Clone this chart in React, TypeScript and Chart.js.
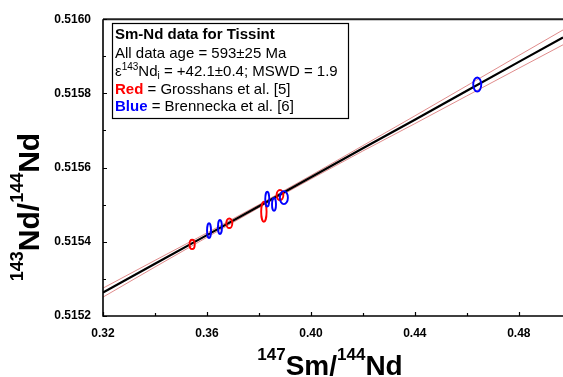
import React, { useEffect, useRef } from "react";
import { Chart, registerables } from "chart.js";

Chart.register(...registerables);

// ---- axis ticks ----
const xMajorTicks = [0.32, 0.36, 0.4, 0.44, 0.48];
const xMinorTicks = [0.34, 0.38, 0.42, 0.46];
const yMajorTicks = [0.5152, 0.5154, 0.5156, 0.5158, 0.516];
const yMinorTicks = [0.5153, 0.5155, 0.5157, 0.5159];

// ---- isochron fit and its error envelope ----
const fitX = [0.32, 0.34, 0.36, 0.38, 0.4, 0.42, 0.44, 0.46, 0.48, 0.497];
const fitY = [0.515263, 0.515341, 0.515418, 0.515496, 0.515574, 0.515652, 0.515729, 0.515807, 0.515885, 0.515951];
const envUpper = [0.5152751, 0.5153499, 0.5154239, 0.5155, 0.5155788, 0.5156592, 0.5157395, 0.5158207, 0.5159022, 0.515971];
const envLower = [0.5152509, 0.5153321, 0.5154121, 0.515492, 0.5155692, 0.5156448, 0.5157185, 0.5157933, 0.5158678, 0.515931];

// ---- Red = Grosshans et al. [5] ----
const redX = [0.3543, 0.3686, 0.3819, 0.3881];
const redY = [0.515393, 0.51545, 0.515481, 0.515526];
const redErrX = [0.001, 0.00115, 0.00104, 0.0013];
const redErrY = [0.0000125, 0.000013, 0.000027, 0.0000135];

// ---- Blue = Brennecka et al. [6] ----
const blueX = [0.3608, 0.365, 0.3832, 0.3858, 0.3896, 0.464];
const blueY = [0.51543, 0.51544, 0.515515, 0.515501, 0.515519, 0.515824];
const blueErrX = [0.00077, 0.00077, 0.00077, 0.00077, 0.00154, 0.00154];
const blueErrY = [0.00002, 0.000019, 0.00002, 0.0000175, 0.0000175, 0.000019];

const FONT = '"Liberation Sans", Arial, Helvetica, sans-serif';

type Seg = { t: string; size: number; bold?: boolean; color?: string; dy?: number };

function segFont(s: Seg) {
  return `${s.bold ? "bold " : ""}${s.size}px ${FONT}`;
}
function richWidth(ctx: CanvasRenderingContext2D, segs: Seg[]) {
  let w = 0;
  for (const s of segs) {
    ctx.font = segFont(s);
    w += ctx.measureText(s.t).width;
  }
  return w;
}
function drawRich(ctx: CanvasRenderingContext2D, segs: Seg[], x: number, y: number) {
  let cx = x;
  ctx.textAlign = "left";
  ctx.textBaseline = "alphabetic";
  for (const s of segs) {
    ctx.font = segFont(s);
    ctx.fillStyle = s.color || "#000";
    ctx.fillText(s.t, cx, y + (s.dy || 0));
    cx += ctx.measureText(s.t).width;
  }
}

const isoPlugin = {
  id: "isochronExtras",
  afterDatasetsDraw(chart: any) {
    const { ctx, chartArea, scales } = chart;
    const xs = scales.x;
    const ys = scales.y;
    ctx.save();
    ctx.beginPath();
    ctx.rect(chartArea.left, chartArea.top, chartArea.right - chartArea.left, chartArea.bottom - chartArea.top);
    ctx.clip();
    const drawSet = (X: number[], Y: number[], EX: number[], EY: number[], color: string) => {
      ctx.strokeStyle = color;
      ctx.lineWidth = 1.9;
      for (let i = 0; i < X.length; i++) {
        const cx = xs.getPixelForValue(X[i]);
        const cy = ys.getPixelForValue(Y[i]);
        const rx = Math.abs(xs.getPixelForValue(X[i] + EX[i]) - cx);
        const ry = Math.abs(ys.getPixelForValue(Y[i] + EY[i]) - cy);
        ctx.beginPath();
        ctx.ellipse(cx, cy, rx, ry, 0, 0, Math.PI * 2);
        ctx.stroke();
      }
    };
    drawSet(redX, redY, redErrX, redErrY, "#ff0000");
    drawSet(blueX, blueY, blueErrX, blueErrY, "#0000ff");
    ctx.restore();
  },
  afterDraw(chart: any) {
    const { ctx, chartArea, scales } = chart;
    const xs = scales.x;
    const ys = scales.y;
    const L = chartArea.left;
    const R = chartArea.right;
    const T = chartArea.top;
    const B = chartArea.bottom;
    ctx.save();
    // frame
    ctx.strokeStyle = "#000";
    ctx.lineWidth = 1.6;
    ctx.beginPath();
    ctx.moveTo(L, T);
    ctx.lineTo(L, B);
    ctx.lineTo(R, B);
    ctx.stroke();
    ctx.strokeStyle = "#222";
    ctx.lineWidth = 2;
    ctx.beginPath();
    ctx.moveTo(L, T);
    ctx.lineTo(R, T);
    ctx.stroke();
    // inward ticks
    ctx.strokeStyle = "#000";
    ctx.lineWidth = 1.2;
    ctx.beginPath();
    for (const v of xMajorTicks) {
      const p = Math.round(xs.getPixelForValue(v)) + 0.5;
      ctx.moveTo(p, B);
      ctx.lineTo(p, B - 4);
    }
    for (const v of xMinorTicks) {
      const p = Math.round(xs.getPixelForValue(v)) + 0.5;
      ctx.moveTo(p, B);
      ctx.lineTo(p, B - 3);
    }
    for (const v of yMajorTicks) {
      const p = Math.round(ys.getPixelForValue(v)) + 0.5;
      ctx.moveTo(L, p);
      ctx.lineTo(L + 4, p);
    }
    for (const v of yMinorTicks) {
      const p = Math.round(ys.getPixelForValue(v)) + 0.5;
      ctx.moveTo(L, p);
      ctx.lineTo(L + 3, p);
    }
    ctx.stroke();

    // axis titles
    const xTitle: Seg[] = [
      { t: "147", size: 17, bold: true, dy: -15 },
      { t: "Sm/", size: 28, bold: true },
      { t: "144", size: 17, bold: true, dy: -15 },
      { t: "Nd", size: 28, bold: true },
    ];
    const xw = richWidth(ctx, xTitle);
    drawRich(ctx, xTitle, 330 - xw / 2, 375);

    const yTitle: Seg[] = [
      { t: "143", size: 18, bold: true, dy: -16 },
      { t: "Nd/", size: 30, bold: true },
      { t: "144", size: 18, bold: true, dy: -16 },
      { t: "Nd", size: 30, bold: true },
    ];
    const yw = richWidth(ctx, yTitle);
    ctx.save();
    ctx.translate(39, 207);
    ctx.rotate(-Math.PI / 2);
    drawRich(ctx, yTitle, -yw / 2, 0);
    ctx.restore();

    // annotation box
    ctx.fillStyle = "#fff";
    ctx.fillRect(112, 23, 236, 95);
    ctx.strokeStyle = "#000";
    ctx.lineWidth = 1.2;
    ctx.strokeRect(112.5, 23.5, 236, 95);
    const tx = 115;
    drawRich(ctx, [{ t: "Sm-Nd data for Tissint", size: 15, bold: true }], tx, 39);
    drawRich(ctx, [{ t: "All data age = 593±25 Ma", size: 15 }], tx, 58);
    drawRich(
      ctx,
      [
        { t: "ε", size: 15 },
        { t: "143", size: 10, dy: -6 },
        { t: "Nd", size: 15 },
        { t: "i", size: 10, dy: 3 },
        { t: " = +42.1±0.4; MSWD = 1.9", size: 15 },
      ],
      tx,
      76
    );
    drawRich(
      ctx,
      [
        { t: "Red", size: 15, bold: true, color: "#ff0000" },
        { t: " = Grosshans et al. [5]", size: 15 },
      ],
      tx,
      94
    );
    drawRich(
      ctx,
      [
        { t: "Blue", size: 15, bold: true, color: "#0000ff" },
        { t: " = Brennecka et al. [6]", size: 15 },
      ],
      tx,
      111
    );
    ctx.restore();
  },
};

export default function App() {
  const canvasRef = useRef<HTMLCanvasElement | null>(null);

  useEffect(() => {
    const canvas = canvasRef.current;
    if (!canvas) return;
    const toPts = (xa: number[], ya: number[]) => xa.map((x, i) => ({ x, y: ya[i] }));
    const tickFont = { family: FONT, size: 12, weight: "bold" as const };
    const chart = new Chart(canvas, {
      type: "scatter",
      data: {
        datasets: [
          {
            label: "Isochron",
            data: toPts(fitX, fitY),
            showLine: true,
            borderColor: "#000",
            borderWidth: 2.2,
            pointRadius: 0,
            fill: false,
          },
          {
            label: "Upper envelope",
            data: toPts(fitX, envUpper),
            showLine: true,
            borderColor: "#e08c8c",
            borderWidth: 1,
            pointRadius: 0,
            fill: false,
          },
          {
            label: "Lower envelope",
            data: toPts(fitX, envLower),
            showLine: true,
            borderColor: "#e08c8c",
            borderWidth: 1,
            pointRadius: 0,
            fill: false,
          },
          {
            label: "Grosshans et al. [5]",
            data: toPts(redX, redY),
            pointRadius: 0,
            borderColor: "#ff0000",
          },
          {
            label: "Brennecka et al. [6]",
            data: toPts(blueX, blueY),
            pointRadius: 0,
            borderColor: "#0000ff",
          },
        ],
      },
      options: {
        animation: false,
        responsive: false,
        maintainAspectRatio: false,
        devicePixelRatio: 1,
        layout: { padding: { top: 16, right: 0, bottom: 0, left: 0 } },
        plugins: { legend: { display: false }, tooltip: { enabled: false } },
        scales: {
          x: {
            type: "linear",
            min: 0.32,
            max: 0.497,
            grid: { display: false, drawTicks: false },
            border: { display: false },
            ticks: {
              padding: 10,
              color: "#000",
              font: tickFont,
              callback: (v: any) => Number(v).toFixed(2),
            },
            afterBuildTicks: (s: any) => {
              s.ticks = xMajorTicks.map((v) => ({ value: v }));
            },
            afterFit: (s: any) => {
              s.height = 61;
            },
          },
          y: {
            type: "linear",
            min: 0.5152,
            max: 0.516,
            grid: { display: false, drawTicks: false },
            border: { display: false },
            ticks: {
              padding: 12,
              color: "#000",
              font: tickFont,
              callback: (v: any) => Number(v).toFixed(4),
            },
            afterBuildTicks: (s: any) => {
              s.ticks = yMajorTicks.map((v) => ({ value: v }));
            },
            afterFit: (s: any) => {
              s.width = 103;
            },
          },
        },
      },
      plugins: [isoPlugin],
    });
    return () => chart.destroy();
  }, []);

  return (
    <div style={{ position: "absolute", left: 0, top: 0, width: 563, height: 377, background: "#fff" }}>
      <canvas ref={canvasRef} width={563} height={377} style={{ display: "block" }} />
    </div>
  );
}
